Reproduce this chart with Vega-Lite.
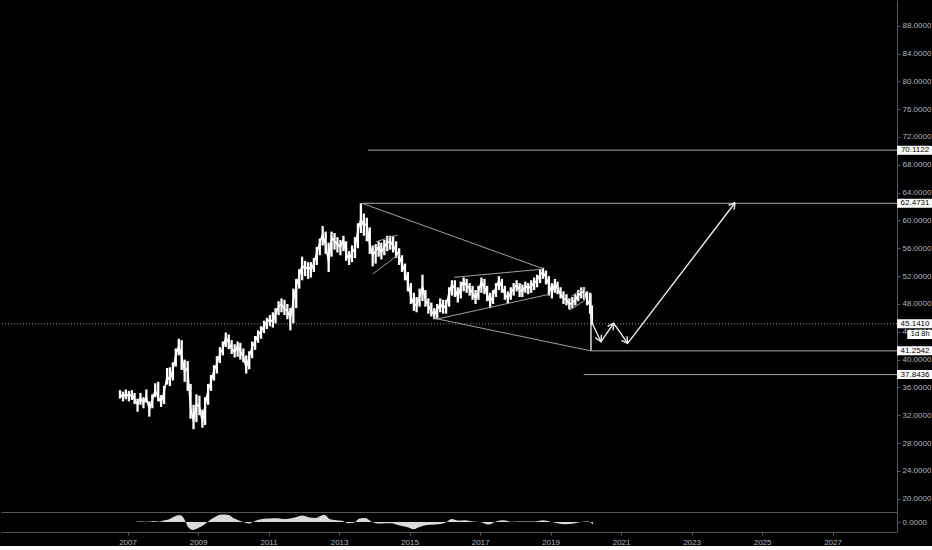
{
"$schema":"https://vega.github.io/schema/vega-lite/v6.json",
"background":"#000000",
"padding":0,
"spacing":0,
"bounds":"flush",
"config":{"view":{"stroke":null},"font":"Liberation Sans","axis":{"zindex":0,"grid":false,"title":null,"labelColor":"#b2b5be","labelFontSize":8,"labelOverlap":false,"domainColor":"#55575f","tickColor":"#55575f","tickSize":3,"labelPadding":2}},
"datasets":{
"price":[
{"d":"2006-10-15","c":35.0,"h":35.6,"l":34.4},{"d":"2006-11-15","c":34.6,"h":35.4,"l":34.0},{"d":"2006-12-15","c":35.1,"h":35.7,"l":34.3},
{"d":"2007-01-15","c":34.7,"h":35.5,"l":34.0},{"d":"2007-02-15","c":35.0,"h":35.6,"l":34.2},{"d":"2007-03-15","c":34.3,"h":35.2,"l":33.6},{"d":"2007-04-15","c":33.6,"h":34.4,"l":32.5},{"d":"2007-05-15","c":34.4,"h":35.2,"l":33.5},{"d":"2007-06-15","c":33.8,"h":34.6,"l":33.0},{"d":"2007-07-15","c":34.6,"h":35.7,"l":33.8},{"d":"2007-08-15","c":32.8,"h":34.0,"l":31.8},{"d":"2007-09-15","c":34.2,"h":35.0,"l":33.0},{"d":"2007-10-15","c":35.6,"h":36.6,"l":34.6},{"d":"2007-11-15","c":34.6,"h":36.8,"l":34.0},{"d":"2007-12-15","c":33.8,"h":34.9,"l":33.2},
{"d":"2008-01-15","c":35.4,"h":36.2,"l":33.6},{"d":"2008-02-15","c":37.6,"h":38.8,"l":36.4},{"d":"2008-03-15","c":37.0,"h":38.9,"l":36.2},{"d":"2008-04-15","c":38.5,"h":39.6,"l":37.0},{"d":"2008-05-15","c":40.6,"h":41.6,"l":39.0},{"d":"2008-06-15","c":42.0,"h":43.0,"l":40.6},{"d":"2008-07-15","c":40.5,"h":42.8,"l":38.5},{"d":"2008-08-15","c":38.2,"h":40.0,"l":36.8},{"d":"2008-09-15","c":38.8,"h":39.8,"l":35.5},{"d":"2008-10-15","c":33.0,"h":36.5,"l":31.5},{"d":"2008-11-15","c":31.2,"h":33.5,"l":30.0},{"d":"2008-12-15","c":33.6,"h":35.0,"l":31.0},
{"d":"2009-01-15","c":33.2,"h":34.8,"l":32.0},{"d":"2009-02-15","c":31.0,"h":32.8,"l":30.2},{"d":"2009-03-15","c":33.5,"h":34.6,"l":30.6},{"d":"2009-04-15","c":35.6,"h":36.5,"l":33.5},{"d":"2009-05-15","c":36.8,"h":37.8,"l":35.5},{"d":"2009-06-15","c":38.4,"h":39.2,"l":37.0},{"d":"2009-07-15","c":39.4,"h":40.5,"l":38.0},{"d":"2009-08-15","c":40.8,"h":41.8,"l":39.5},{"d":"2009-09-15","c":41.6,"h":42.6,"l":40.6},{"d":"2009-10-15","c":43.2,"h":43.9,"l":41.8},{"d":"2009-11-15","c":42.4,"h":43.6,"l":41.5},{"d":"2009-12-15","c":41.6,"h":42.8,"l":40.8},
{"d":"2010-01-15","c":41.0,"h":42.2,"l":40.3},{"d":"2010-02-15","c":42.0,"h":42.6,"l":40.4},{"d":"2010-03-15","c":41.2,"h":42.4,"l":40.0},{"d":"2010-04-15","c":40.4,"h":41.6,"l":39.6},{"d":"2010-05-15","c":38.8,"h":40.6,"l":38.0},{"d":"2010-06-15","c":40.4,"h":41.2,"l":38.6},{"d":"2010-07-15","c":41.8,"h":42.6,"l":40.2},{"d":"2010-08-15","c":42.6,"h":43.4,"l":41.4},{"d":"2010-09-15","c":43.6,"h":44.2,"l":42.4},{"d":"2010-10-15","c":44.0,"h":44.8,"l":43.0},{"d":"2010-11-15","c":44.8,"h":45.6,"l":43.8},{"d":"2010-12-15","c":45.4,"h":46.0,"l":44.4},
{"d":"2011-01-15","c":45.8,"h":46.4,"l":44.8},{"d":"2011-02-15","c":45.4,"h":46.8,"l":44.6},{"d":"2011-03-15","c":46.6,"h":47.4,"l":45.2},{"d":"2011-04-15","c":47.6,"h":48.4,"l":46.4},{"d":"2011-05-15","c":48.0,"h":48.8,"l":46.8},{"d":"2011-06-15","c":47.2,"h":48.6,"l":46.4},{"d":"2011-07-15","c":47.0,"h":48.0,"l":45.8},{"d":"2011-08-15","c":46.0,"h":47.4,"l":44.2},{"d":"2011-09-15","c":48.4,"h":50.2,"l":45.2},{"d":"2011-10-15","c":50.6,"h":51.6,"l":47.4},{"d":"2011-11-15","c":52.0,"h":53.0,"l":50.2},{"d":"2011-12-15","c":53.6,"h":54.8,"l":51.4},
{"d":"2012-01-15","c":53.0,"h":54.2,"l":52.0},{"d":"2012-02-15","c":53.4,"h":54.0,"l":51.6},{"d":"2012-03-15","c":52.8,"h":54.0,"l":51.8},{"d":"2012-04-15","c":53.8,"h":54.6,"l":52.6},{"d":"2012-05-15","c":55.4,"h":56.2,"l":53.6},{"d":"2012-06-15","c":56.8,"h":57.4,"l":55.0},{"d":"2012-07-15","c":58.0,"h":59.2,"l":56.4},{"d":"2012-08-15","c":56.4,"h":58.4,"l":55.2},{"d":"2012-09-15","c":54.0,"h":56.8,"l":52.6},{"d":"2012-10-15","c":57.6,"h":58.4,"l":54.8},{"d":"2012-11-15","c":57.0,"h":58.2,"l":55.8},{"d":"2012-12-15","c":56.6,"h":57.6,"l":55.4},
{"d":"2013-01-15","c":56.2,"h":57.2,"l":55.0},{"d":"2013-02-15","c":57.2,"h":57.8,"l":55.6},{"d":"2013-03-15","c":55.2,"h":57.0,"l":54.2},{"d":"2013-04-15","c":54.4,"h":55.6,"l":53.6},{"d":"2013-05-15","c":55.4,"h":56.4,"l":54.0},{"d":"2013-06-15","c":56.0,"h":57.6,"l":54.6},{"d":"2013-07-15","c":58.6,"h":59.6,"l":56.0},{"d":"2013-08-15","c":60.2,"h":62.47,"l":58.2},{"d":"2013-09-15","c":59.2,"h":61.0,"l":57.8},{"d":"2013-10-15","c":59.6,"h":60.4,"l":57.0},{"d":"2013-11-15","c":56.4,"h":59.0,"l":55.2},{"d":"2013-12-15","c":55.0,"h":56.4,"l":53.4},
{"d":"2014-01-15","c":55.6,"h":56.6,"l":53.8},{"d":"2014-02-15","c":56.2,"h":57.0,"l":54.8},{"d":"2014-03-15","c":55.4,"h":56.8,"l":54.4},{"d":"2014-04-15","c":56.2,"h":57.2,"l":55.0},{"d":"2014-05-15","c":56.8,"h":57.8,"l":55.6},{"d":"2014-06-15","c":57.0,"h":57.8,"l":55.8},{"d":"2014-07-15","c":56.4,"h":57.8,"l":55.4},{"d":"2014-08-15","c":55.6,"h":57.0,"l":54.6},{"d":"2014-09-15","c":54.8,"h":56.0,"l":53.6},{"d":"2014-10-15","c":53.8,"h":55.0,"l":52.6},{"d":"2014-11-15","c":52.6,"h":53.8,"l":51.4},{"d":"2014-12-15","c":51.0,"h":52.6,"l":49.8},
{"d":"2015-01-15","c":49.0,"h":51.0,"l":48.0},{"d":"2015-02-15","c":48.0,"h":49.6,"l":47.0},{"d":"2015-03-15","c":47.8,"h":49.0,"l":46.8},{"d":"2015-04-15","c":49.0,"h":50.2,"l":47.6},{"d":"2015-05-15","c":50.6,"h":52.2,"l":48.4},{"d":"2015-06-15","c":48.6,"h":50.0,"l":47.6},{"d":"2015-07-15","c":47.8,"h":48.8,"l":46.6},{"d":"2015-08-15","c":47.0,"h":48.2,"l":46.2},{"d":"2015-09-15","c":46.4,"h":47.4,"l":45.8},{"d":"2015-10-15","c":47.2,"h":48.0,"l":45.9},{"d":"2015-11-15","c":48.0,"h":48.8,"l":46.8},{"d":"2015-12-15","c":47.4,"h":48.6,"l":46.6},
{"d":"2016-01-15","c":47.8,"h":48.6,"l":46.6},{"d":"2016-02-15","c":49.6,"h":50.4,"l":47.6},{"d":"2016-03-15","c":50.8,"h":51.4,"l":49.2},{"d":"2016-04-15","c":50.2,"h":51.4,"l":49.0},{"d":"2016-05-15","c":49.0,"h":50.4,"l":48.2},{"d":"2016-06-15","c":50.4,"h":51.2,"l":48.8},{"d":"2016-07-15","c":51.2,"h":51.8,"l":49.8},{"d":"2016-08-15","c":50.6,"h":51.6,"l":49.6},{"d":"2016-09-15","c":50.2,"h":51.0,"l":49.2},{"d":"2016-10-15","c":49.6,"h":50.6,"l":48.6},{"d":"2016-11-15","c":48.8,"h":50.0,"l":48.0},{"d":"2016-12-15","c":49.8,"h":50.6,"l":48.6},
{"d":"2017-01-15","c":51.2,"h":51.8,"l":49.6},{"d":"2017-02-15","c":50.4,"h":51.6,"l":49.4},{"d":"2017-03-15","c":49.4,"h":50.6,"l":48.4},{"d":"2017-04-15","c":48.2,"h":49.6,"l":47.4},{"d":"2017-05-15","c":49.2,"h":50.0,"l":48.0},{"d":"2017-06-15","c":50.4,"h":51.0,"l":49.0},{"d":"2017-07-15","c":51.4,"h":52.0,"l":50.0},{"d":"2017-08-15","c":50.4,"h":51.6,"l":49.6},{"d":"2017-09-15","c":49.4,"h":50.6,"l":48.6},{"d":"2017-10-15","c":48.8,"h":49.8,"l":48.0},{"d":"2017-11-15","c":49.6,"h":50.4,"l":48.6},{"d":"2017-12-15","c":50.2,"h":51.0,"l":49.2},
{"d":"2018-01-15","c":50.8,"h":51.4,"l":49.8},{"d":"2018-02-15","c":50.0,"h":51.0,"l":49.0},{"d":"2018-03-15","c":49.8,"h":50.8,"l":49.0},{"d":"2018-04-15","c":50.6,"h":51.2,"l":49.6},{"d":"2018-05-15","c":50.2,"h":51.0,"l":49.4},{"d":"2018-06-15","c":50.6,"h":51.4,"l":49.6},{"d":"2018-07-15","c":51.0,"h":51.8,"l":50.0},{"d":"2018-08-15","c":51.4,"h":52.2,"l":50.4},{"d":"2018-09-15","c":52.2,"h":53.0,"l":51.0},{"d":"2018-10-15","c":52.6,"h":53.2,"l":51.6},{"d":"2018-11-15","c":51.8,"h":52.8,"l":50.8},{"d":"2018-12-15","c":50.8,"h":52.0,"l":49.2},
{"d":"2019-01-15","c":49.6,"h":51.0,"l":48.8},{"d":"2019-02-15","c":51.0,"h":51.6,"l":49.6},{"d":"2019-03-15","c":50.2,"h":51.2,"l":49.4},{"d":"2019-04-15","c":49.4,"h":50.4,"l":48.8},{"d":"2019-05-15","c":48.8,"h":49.8,"l":48.0},{"d":"2019-06-15","c":48.6,"h":49.4,"l":47.8},{"d":"2019-07-15","c":47.9,"h":48.8,"l":47.2},{"d":"2019-08-15","c":48.2,"h":49.0,"l":47.4},{"d":"2019-09-15","c":48.6,"h":49.4,"l":47.8},{"d":"2019-10-15","c":49.2,"h":50.0,"l":48.4},{"d":"2019-11-15","c":49.6,"h":50.4,"l":48.8},{"d":"2019-12-15","c":49.8,"h":50.4,"l":48.6},
{"d":"2020-01-15","c":48.6,"h":49.8,"l":47.8},{"d":"2020-02-15","c":47.8,"h":49.6,"l":46.6},{"d":"2020-03-05","c":45.141,"h":47.8,"l":45.0}
],
"rays":[{"d":"2013-10-26","p":70.1122},{"d":"2013-08-27","p":62.4731},{"d":"2020-02-24","p":41.2542},{"d":"2019-12-10","p":37.8436}],
"last":[{"p":45.141}],
"labels":[{"p":70.1122},{"p":62.4731},{"p":45.141},{"p":41.2542},{"p":37.8436}],
"timer":[{"p":43.61,"t":"1d 8h"}],
"segs":[
{"g":"t1","d":"2013-08-27","p":62.47},{"g":"t1","d":"2018-10-19","p":53.05},
{"g":"t2","d":"2015-09-14","p":45.94},{"g":"t2","d":"2020-02-24","p":41.25},
{"g":"c1","d":"2016-04-08","p":51.83},{"g":"c1","d":"2018-10-12","p":53.0},
{"g":"c2","d":"2015-10-01","p":45.79},{"g":"c2","d":"2018-12-20","p":49.39},
{"g":"f1","d":"2014-01-19","p":56.95},{"g":"f1","d":"2014-08-31","p":57.91},
{"g":"f2","d":"2013-12-15","p":52.3},{"g":"f2","d":"2014-09-17","p":55.18},
{"g":"f3","d":"2019-08-07","p":49.14},{"g":"f3","d":"2019-12-17","p":50.25},
{"g":"f4","d":"2019-07-23","p":47.13},{"g":"f4","d":"2019-12-17","p":48.47},
{"g":"f5","d":"2019-12-17","p":48.47},{"g":"f5","d":"2019-12-17","p":50.25}
],
"arrows":[
{"g":"path","d":"2020-03-11","p":45.12},{"g":"path","d":"2020-06-07","p":42.57},{"g":"path","d":"2020-10-17","p":45.22},{"g":"path","d":"2021-03-10","p":42.34},{"g":"path","d":"2024-03-27","p":62.55},
{"g":"a1","d":"2020-06-07","p":42.57},{"g":"a1","d":"2020-06-12","p":43.58},
{"g":"a2","d":"2020-06-07","p":42.57},{"g":"a2","d":"2020-04-08","p":43.15},
{"g":"b1","d":"2020-10-17","p":45.22},{"g":"b1","d":"2020-08-13","p":44.79},
{"g":"b2","d":"2020-10-17","p":45.22},{"g":"b2","d":"2020-10-11","p":44.21},
{"g":"c1","d":"2021-03-10","p":42.34},{"g":"c1","d":"2021-03-04","p":43.35},
{"g":"c2","d":"2021-03-10","p":42.34},{"g":"c2","d":"2021-01-05","p":42.77},
{"g":"d1","d":"2024-03-27","p":62.55},{"g":"d1","d":"2024-01-19","p":62.17},
{"g":"d2","d":"2024-03-27","p":62.55},{"g":"d2","d":"2024-03-17","p":61.56},
{"g":"v","d":"2020-02-24","p":49.5},{"g":"v","d":"2020-02-24","p":41.3}
],
"osc":[
{"d":"2007-04-01","v":0.3},{"d":"2007-06-01","v":0.6},{"d":"2007-07-15","v":0.2},{"d":"2007-09-01","v":0.5},{"d":"2007-10-15","v":0.8},{"d":"2007-12-01","v":0.3},
{"d":"2008-01-10","v":1.5},{"d":"2008-03-01","v":2.5},{"d":"2008-05-01","v":5.5},{"d":"2008-06-20","v":7.0},{"d":"2008-08-01","v":4.5},{"d":"2008-08-25","v":0},{"d":"2008-09-20","v":-5},{"d":"2008-11-10","v":-8},
{"d":"2009-01-01","v":-6},{"d":"2009-03-01","v":-3},{"d":"2009-04-15","v":0.5},{"d":"2009-06-15","v":4.5},{"d":"2009-09-01","v":7.5},{"d":"2009-11-15","v":7},
{"d":"2010-01-01","v":4},{"d":"2010-03-01","v":1.5},{"d":"2010-05-01","v":-0.5},{"d":"2010-06-15","v":-1.5},{"d":"2010-08-01","v":0.5},{"d":"2010-10-01","v":2.5},
{"d":"2011-01-01","v":3.5},{"d":"2011-04-01","v":3.8},{"d":"2011-07-01","v":3.0},{"d":"2011-10-01","v":4.5},{"d":"2011-12-15","v":6.5},
{"d":"2012-03-01","v":4.5},{"d":"2012-05-01","v":4},{"d":"2012-08-01","v":7.2},{"d":"2012-09-25","v":3},{"d":"2012-12-01","v":1.8},
{"d":"2013-02-01","v":1.2},{"d":"2013-04-01","v":-1.2},{"d":"2013-06-01","v":-0.8},{"d":"2013-08-01","v":3.5},{"d":"2013-10-01","v":4},{"d":"2013-12-01","v":0.5},
{"d":"2014-02-01","v":-1.5},{"d":"2014-05-01","v":-1.2},{"d":"2014-07-01","v":-1.2},{"d":"2014-09-01","v":-3},{"d":"2014-12-01","v":-5},
{"d":"2015-02-15","v":-7.2},{"d":"2015-04-15","v":-5},{"d":"2015-07-01","v":-3},{"d":"2015-10-01","v":-2.5},
{"d":"2016-01-01","v":-1},{"d":"2016-03-15","v":3},{"d":"2016-05-15","v":1.5},{"d":"2016-08-01","v":1.8},{"d":"2016-10-15","v":0.5},
{"d":"2017-01-01","v":0},{"d":"2017-04-01","v":-2.5},{"d":"2017-06-15","v":0.5},{"d":"2017-09-01","v":1.7},{"d":"2017-11-15","v":0.3},
{"d":"2018-02-01","v":0.6},{"d":"2018-05-01","v":0.6},{"d":"2018-08-01","v":0.5},{"d":"2018-10-15","v":1.7},
{"d":"2019-01-01","v":0.2},{"d":"2019-03-15","v":-1.2},{"d":"2019-06-01","v":-2.2},{"d":"2019-09-01","v":-1.5},{"d":"2019-12-01","v":0.2},
{"d":"2020-02-01","v":0.5},{"d":"2020-03-15","v":-2.8}
]
},
"vconcat":[
{
"width":896,"height":512,
"layer":[
{"data":{"name":"last"},"mark":{"type":"rule","color":"#9a9a9a","strokeDash":[1,2],"strokeWidth":1},
 "encoding":{"y":{"field":"p","type":"quantitative","scale":{"domain":[18.09,91.695],"nice":false,"zero":false},
  "axis":{"orient":"right","values":[20,24,28,32,36,40,44,48,52,56,60,64,68,72,76,80,84,88],"tickCount":40,"format":".4f","labelOverlap":false,"labelFontSize":8}}}},
{"data":{"name":"rays"},"mark":{"type":"rule","color":"#a8a8a8","strokeWidth":1},
 "encoding":{"x":{"field":"d","type":"temporal","scale":{"domain":[{"year":2003,"month":5,"date":31},{"year":2028,"month":10,"date":30}]},
  "axis":{"labels":false,"ticks":false,"domain":true,"domainColor":"#55575f"}},
  "x2":{"datum":{"year":2028,"month":10,"date":30}},
  "y":{"field":"p","type":"quantitative"}}},
{"data":{"name":"price"},"mark":{"type":"rule","color":"#ffffff","strokeWidth":2.3},
 "encoding":{"x":{"field":"d","type":"temporal"},"y":{"field":"l","type":"quantitative"},"y2":{"field":"h"}}},
{"data":{"name":"price"},"mark":{"type":"line","color":"#ffffff","strokeWidth":1.6},
 "encoding":{"x":{"field":"d","type":"temporal"},"y":{"field":"c","type":"quantitative"}}},
{"data":{"name":"segs"},"mark":{"type":"line","color":"#a0a0a0","strokeWidth":1},
 "encoding":{"x":{"field":"d","type":"temporal"},"y":{"field":"p","type":"quantitative"},"detail":{"field":"g"}}},
{"data":{"name":"arrows"},"mark":{"type":"line","color":"#ececec","strokeWidth":1.4},
 "encoding":{"x":{"field":"d","type":"temporal"},"y":{"field":"p","type":"quantitative"},"detail":{"field":"g"}}},
{"data":{"name":"labels"},"mark":{"type":"point","shape":"M-1,-0.25H1V0.25H-1Z","size":1296,"filled":true,"color":"#ffffff","opacity":1,"strokeWidth":0},
 "encoding":{"x":{"datum":{"year":2029,"month":5,"date":5},"type":"temporal"},"y":{"field":"p","type":"quantitative"}}},
{"data":{"name":"labels"},"mark":{"type":"text","color":"#000000","fontSize":8,"align":"center","baseline":"middle"},
 "encoding":{"x":{"datum":{"year":2029,"month":5,"date":5},"type":"temporal"},"y":{"field":"p","type":"quantitative"},"text":{"field":"p","type":"quantitative","format":".4f"}}},
{"data":{"name":"timer"},"mark":{"type":"point","shape":"M-1,-0.35H1V0.35H-1Z","size":676,"filled":true,"color":"#ffffff","opacity":1,"strokeWidth":0},
 "encoding":{"x":{"datum":{"year":2029,"month":6,"date":28},"type":"temporal"},"y":{"field":"p","type":"quantitative"}}},
{"data":{"name":"timer"},"mark":{"type":"text","color":"#000000","fontSize":7.5,"align":"center","baseline":"middle"},
 "encoding":{"x":{"datum":{"year":2029,"month":6,"date":28},"type":"temporal"},"y":{"field":"p","type":"quantitative"},"text":{"field":"t"}}}
]
},
{
"width":896,"height":20,
"data":{"name":"osc"},
"mark":{"type":"area","color":"#e6e6e6","opacity":0.95,"interpolate":"monotone"},
"encoding":{
 "x":{"field":"d","type":"temporal","scale":{"domain":[{"year":2003,"month":5,"date":31},{"year":2028,"month":10,"date":30}]},
  "axis":{"values":[{"year":2007},{"year":2009},{"year":2011},{"year":2013},{"year":2015},{"year":2017},{"year":2019},{"year":2021},{"year":2023},{"year":2025},{"year":2027}],"tickCount":40,"format":"%Y","labelPadding":3}},
 "y":{"field":"v","type":"quantitative","stack":null,"scale":{"domain":[-10,10],"nice":false},
  "axis":{"orient":"right","values":[0],"format":".4f"}}
}
}
]
}
